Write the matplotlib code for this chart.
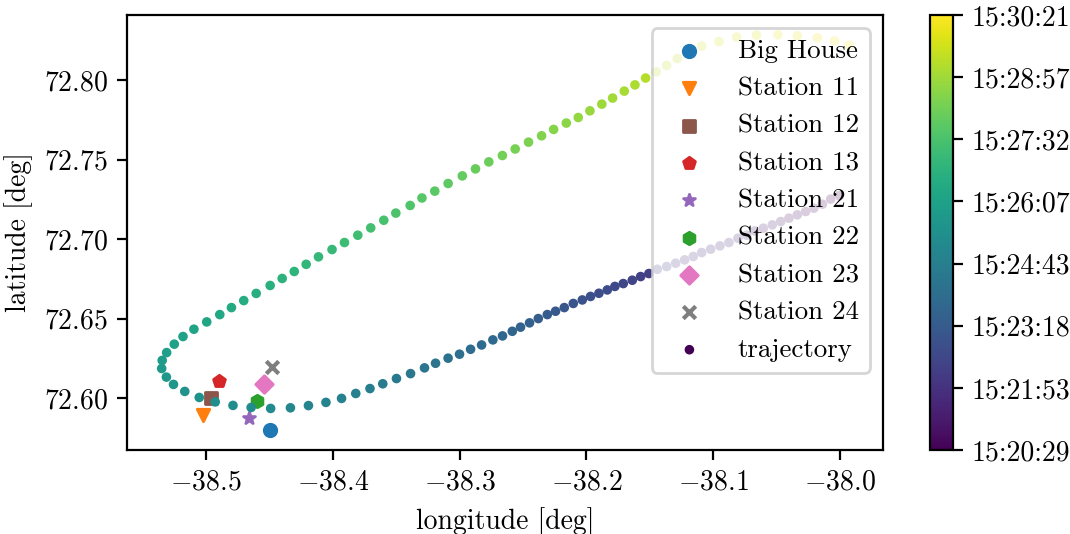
import numpy as np
import matplotlib
matplotlib.use("Agg")
import matplotlib.pyplot as plt

plt.rcParams.update({
    "font.family": "serif",
    "font.serif": ["cmr10"],
    "mathtext.fontset": "cm",
    "axes.formatter.use_mathtext": True,
    "font.size": 10,
})

# ---------------- data ----------------
station_names = ["Big House", "Station 11", "Station 12", "Station 13",
                 "Station 21", "Station 22", "Station 23", "Station 24"]
station_lon = [-38.4497, -38.5020, -38.4959, -38.4896,
               -38.4657, -38.4596, -38.4539, -38.4476]
station_lat = [72.5799, 72.5895, 72.6002, 72.6109,
               72.5874, 72.5981, 72.6092, 72.6199]
station_markers = ["o", "v", "s", "p", "*", "h", "D", "x"]
station_colors = ["C0", "C1", "C5", "C3", "C4", "C2", "C6", "C7"]

traj_lon = [
    -38.0008, -38.0075, -38.0140, -38.0207, -38.0272, -38.0338, -38.0404, -38.0469,
    -38.0535, -38.0606, -38.0674, -38.0737, -38.0806, -38.0877, -38.0948, -38.1021,
    -38.1092, -38.1158, -38.1226, -38.1297, -38.1368, -38.1442, -38.1508, -38.1573,
    -38.1639, -38.1710, -38.1776, -38.1836, -38.1902, -38.1968, -38.2033, -38.2104,
    -38.2175, -38.2244, -38.2309, -38.2380, -38.2449, -38.2520, -38.2585, -38.2662,
    -38.2738, -38.2827, -38.2914, -38.3001, -38.3091, -38.3190, -38.3277, -38.3387,
    -38.3498, -38.3606, -38.3707, -38.3819, -38.3931, -38.4054, -38.4192, -38.4334,
    -38.4490, -38.4644, -38.4787, -38.4927, -38.5053, -38.5167, -38.5256, -38.5312,
    -38.5349, -38.5345, -38.5310, -38.5250, -38.5181, -38.5095, -38.4994, -38.4891,
    -38.4799, -38.4702, -38.4604, -38.4494, -38.4399, -38.4304, -38.4210, -38.4113,
    -38.4006, -38.3908, -38.3803, -38.3701, -38.3598, -38.3503, -38.3390, -38.3297,
    -38.3196, -38.3091, -38.2979, -38.2875, -38.2770, -38.2663, -38.2562, -38.2457,
    -38.2354, -38.2259, -38.2159, -38.2065, -38.1973, -38.1879, -38.1794, -38.1702,
    -38.1618, -38.1534, -38.1450, -38.1368, -38.1284, -38.1183, -38.1092, -38.0956,
    -38.0816, -38.0660, -38.0491, -38.0338, -38.0180, -38.0043, -37.9931,
]
traj_lat = [
    72.7274, 72.7252, 72.7220, 72.7195, 72.7174, 72.7153, 72.7132, 72.7111,
    72.7090, 72.7069, 72.7052, 72.7025, 72.7006, 72.6979, 72.6958, 72.6937,
    72.6916, 72.6891, 72.6870, 72.6849, 72.6828, 72.6811, 72.6784, 72.6765,
    72.6742, 72.6721, 72.6703, 72.6681, 72.6660, 72.6640, 72.6618, 72.6596,
    72.6570, 72.6547, 72.6526, 72.6501, 72.6474, 72.6447, 72.6421, 72.6392,
    72.6367, 72.6335, 72.6308, 72.6277, 72.6252, 72.6220, 72.6191, 72.6155,
    72.6124, 72.6091, 72.6061, 72.6030, 72.5999, 72.5974, 72.5954, 72.5940,
    72.5936, 72.5942, 72.5955, 72.5977, 72.6005, 72.6043, 72.6087, 72.6133,
    72.6187, 72.6238, 72.6287, 72.6340, 72.6388, 72.6434, 72.6480, 72.6526,
    72.6570, 72.6614, 72.6659, 72.6709, 72.6753, 72.6797, 72.6842, 72.6889,
    72.6935, 72.6979, 72.7025, 72.7071, 72.7119, 72.7164, 72.7212, 72.7259,
    72.7302, 72.7350, 72.7398, 72.7442, 72.7486, 72.7526, 72.7567, 72.7610,
    72.7650, 72.7690, 72.7730, 72.7765, 72.7807, 72.7849, 72.7887, 72.7931,
    72.7970, 72.8013, 72.8052, 72.8092, 72.8136, 72.8174, 72.8214, 72.8242,
    72.8270, 72.8283, 72.8285, 72.8279, 72.8266, 72.8247, 72.8220,
]
# seconds after 15:20:29
traj_t = [
    0, 5, 10, 15, 20, 25, 30, 35, 40, 45, 50, 55, 60, 65, 70, 75, 80, 85, 90, 95,
    100, 105, 110, 115, 120, 125, 130, 135, 140, 145, 150, 155, 160, 165, 170, 175,
    180, 185, 190, 195, 200, 205, 210, 215, 220, 225, 230, 235, 240, 245, 250, 255,
    260, 265, 270, 275, 280, 285, 290, 295, 300, 305, 310, 315, 320, 325, 330, 335,
    340, 345, 350, 355, 360, 365, 370, 375, 380, 385, 390, 395, 400, 405, 410, 415,
    420, 425, 430, 435, 440, 445, 450, 455, 460, 465, 470, 475, 480, 485, 490, 495,
    500, 505, 510, 515, 520, 525, 530, 535, 540, 545, 550, 555, 560, 565, 570, 575,
    580, 585, 592,
]
cbar_labels = ["15:20:29", "15:21:53", "15:23:18", "15:24:43",
               "15:26:07", "15:27:32", "15:28:57", "15:30:21"]

# ---------------- figure ----------------
fig = plt.figure(figsize=(5.35, 2.67), dpi=200)
ax = fig.add_axes([0.1190, 0.1573, 0.7065, 0.8146])
cax = fig.add_axes([0.8696, 0.1573, 0.0206, 0.8146])

for name, lo, la, m, c in zip(station_names, station_lon, station_lat,
                              station_markers, station_colors):
    ax.scatter([lo], [la], marker=m, color=c, s=20, label=name)

sc = ax.scatter(traj_lon, traj_lat, c=traj_t, cmap="viridis", s=6,
                vmin=traj_t[0], vmax=traj_t[-1], label="trajectory")

ax.set_xlabel("longitude [deg]")
ax.set_ylabel("latitude [deg]")
ax.legend(loc="upper right", fontsize=9.7, labelspacing=0.5)

cb = fig.colorbar(sc, cax=cax)
cb.set_ticks(np.linspace(traj_t[0], traj_t[-1], len(cbar_labels)))
cb.set_ticklabels(cbar_labels)

fig.savefig("out.png", dpi=200)
